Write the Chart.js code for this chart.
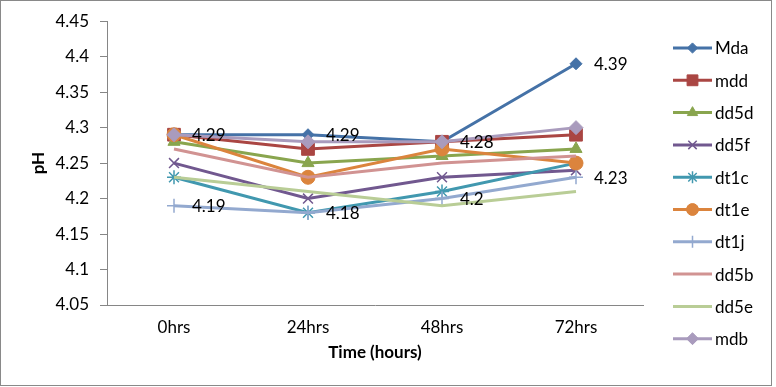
<!DOCTYPE html>
<html>
<head>
<meta charset="utf-8">
<script src="https://cdn.jsdelivr.net/npm/chart.js"></script>
<style>
  html, body { margin: 0; padding: 0; background: #fff; }
  #wrap { width: 776px; height: 387px; }
</style>
</head>
<body>
<div id="wrap"><canvas id="phChart" width="776" height="387"></canvas></div>
<script>
// categories
const timeLabels = ['0hrs', '24hrs', '48hrs', '72hrs'];

// pH values per sample
const mda  = [4.29, 4.29, 4.28, 4.39];
const mdd  = [4.29, 4.27, 4.28, 4.29];
const dd5d = [4.28, 4.25, 4.26, 4.27];
const dd5f = [4.25, 4.20, 4.23, 4.24];
const dt1c = [4.23, 4.18, 4.21, 4.25];
const dt1e = [4.29, 4.23, 4.27, 4.25];
const dt1j = [4.19, 4.18, 4.20, 4.23];
const dd5b = [4.27, 4.23, 4.25, 4.26];
const dd5e = [4.23, 4.21, 4.19, 4.21];
const mdb  = [4.29, 4.28, 4.28, 4.30];

// y axis ticks
const yTicks = [4.05, 4.1, 4.15, 4.2, 4.25, 4.3, 4.35, 4.4, 4.45];

const FONT = 'Lato, "Open Sans", sans-serif';
const AXIS_GREY = '#868686';

const series = [
  { label: 'Mda',  data: mda,  color: '#4572A7', style: 'rectRot',  r: 6 },
  { label: 'mdd',  data: mdd,  color: '#AA4643', style: 'rect',     r: 9 },
  { label: 'dd5d', data: dd5d, color: '#89A54E', style: 'triangle', r: 7 },
  { label: 'dd5f', data: dd5f, color: '#71588F', style: 'crossRot', r: 7 },
  { label: 'dt1c', data: dt1c, color: '#4198AF', style: 'star',     r: 7 },
  { label: 'dt1e', data: dt1e, color: '#DB843D', style: 'circle',   r: 7 },
  { label: 'dt1j', data: dt1j, color: '#93A9CF', style: 'cross',    r: 7 },
  { label: 'dd5b', data: dd5b, color: '#D19392', style: false,      r: 0 },
  { label: 'dd5e', data: dd5e, color: '#B9CD96', style: false,      r: 0 },
  { label: 'mdb',  data: mdb,  color: '#A99BBD', style: 'rectRot',  r: 7 }
];

// series that carry value labels
const labelled = ['Mda', 'dt1j'];

const datasets = series.map((s, i) => ({
  label: s.label,
  data: s.data,
  borderColor: s.color,
  backgroundColor: s.color,
  borderWidth: 3,
  pointStyle: s.style,
  pointRadius: s.r,
  pointBorderWidth: (s.style === 'cross' || s.style === 'crossRot' || s.style === 'star') ? 1.5 : 1,
  pointBorderColor: s.color,
  pointBackgroundColor: s.color,
  tension: 0,
  order: series.length - i
}));

// white background + outer frame
const framePlugin = {
  id: 'frame',
  beforeDraw(chart) {
    const ctx = chart.ctx;
    ctx.save();
    ctx.fillStyle = '#fff';
    ctx.fillRect(0, 0, chart.width, chart.height);
    ctx.restore();
  },
  afterDraw(chart) {
    const ctx = chart.ctx;
    ctx.save();
    ctx.strokeStyle = '#898989';
    ctx.lineWidth = 1;
    ctx.strokeRect(0.5, 0.5, 771, 385);
    ctx.restore();
  }
};

// value labels to the right of the points
const valueLabels = {
  id: 'valueLabels',
  afterDatasetsDraw(chart) {
    const ctx = chart.ctx;
    ctx.save();
    ctx.font = '17px ' + FONT;
    ctx.fillStyle = '#000';
    ctx.textAlign = 'left';
    ctx.textBaseline = 'middle';
    chart.data.datasets.forEach((ds, i) => {
      if (!labelled.includes(ds.label)) return;
      const meta = chart.getDatasetMeta(i);
      meta.data.forEach((pt, j) => {
        ctx.fillText(String(ds.data[j]), pt.x + 18, pt.y + 1);
      });
    });
    ctx.restore();
  }
};

// legend drawn Excel-style: line with marker through it
const sideLegend = {
  id: 'sideLegend',
  afterDraw(chart) {
    const ctx = chart.ctx;
    const x0 = 673, x1 = 712, top = 48, step = 32.3;
    ctx.save();
    series.forEach((s, i) => {
      const y = top + i * step;
      ctx.strokeStyle = s.color;
      ctx.lineWidth = 3;
      ctx.beginPath();
      ctx.moveTo(x0, y);
      ctx.lineTo(x1, y);
      ctx.stroke();
      if (s.style && Chart.helpers && Chart.helpers.drawPoint) {
        ctx.fillStyle = s.color;
        ctx.strokeStyle = s.color;
        ctx.lineWidth = (s.style === 'cross' || s.style === 'crossRot' || s.style === 'star') ? 1.5 : 1;
        Chart.helpers.drawPoint(ctx, { pointStyle: s.style, radius: s.r * 0.85, rotation: 0, borderWidth: 1 }, (x0 + x1) / 2, y);
      }
      ctx.fillStyle = '#000';
      ctx.font = '17px ' + FONT;
      ctx.textAlign = 'left';
      ctx.textBaseline = 'middle';
      ctx.fillText(s.label, 715, y + 1);
    });
    ctx.restore();
  }
};

new Chart(document.getElementById('phChart'), {
  type: 'line',
  data: { labels: timeLabels, datasets: datasets },
  options: {
    responsive: false,
    animation: false,
    layout: { padding: { top: 21, right: 133, left: 0, bottom: 0 } },
    plugins: {
      legend: { display: false },
      tooltip: { enabled: false }
    },
    scales: {
      x: {
        offset: true,
        grid: { display: true, drawOnChartArea: false, drawTicks: false, color: AXIS_GREY },
        border: { display: true, color: AXIS_GREY, width: 1 },
        ticks: { color: '#000', padding: 12, font: { family: FONT, size: 17 } },
        title: {
          display: true, text: 'Time (hours)', color: '#000',
          font: { family: FONT, size: 17, weight: 'bold' },
          padding: { top: 4, bottom: 24 }
        },
        afterFit(scale) { scale.height = 82; }
      },
      y: {
        min: 4.05,
        max: 4.45,
        afterBuildTicks(scale) { scale.ticks = yTicks.map(v => ({ value: v })); },
        grid: { display: true, drawOnChartArea: false, drawTicks: true, tickLength: 7, color: AXIS_GREY },
        border: { display: true, color: AXIS_GREY, width: 1 },
        ticks: {
          color: '#000', padding: 11, font: { family: FONT, size: 17 },
          callback: v => String(parseFloat(Number(v).toFixed(2)))
        },
        title: {
          display: true, text: 'pH', color: '#000',
          font: { family: FONT, size: 17, weight: 'bold' },
          padding: { top: 28, bottom: 0 }
        },
        afterFit(scale) { scale.width = 107; }
      }
    }
  },
  plugins: [framePlugin, valueLabels, sideLegend]
});
</script>
</body>
</html>
